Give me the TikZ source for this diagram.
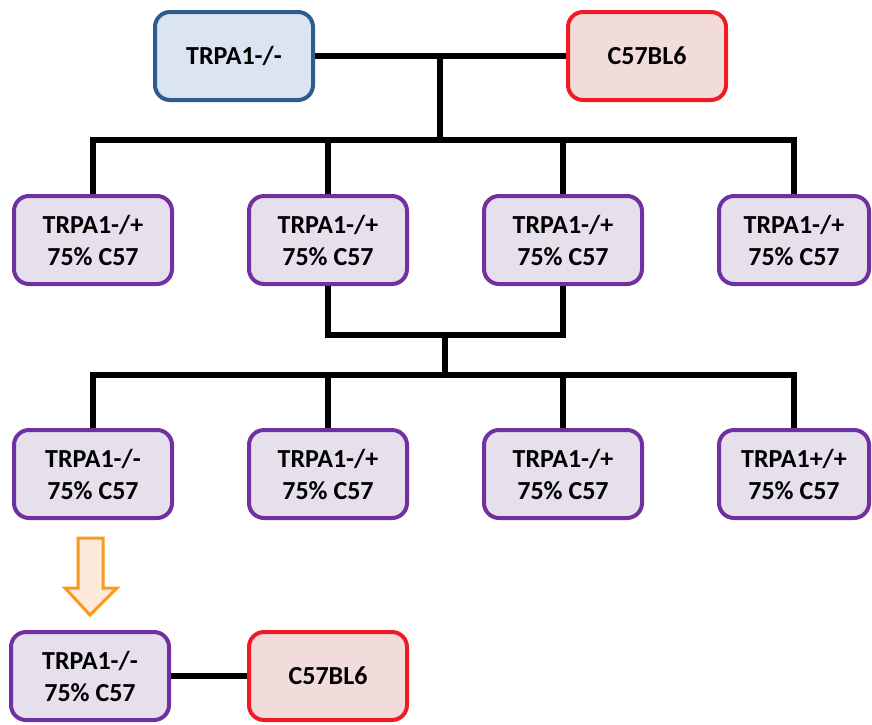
\documentclass[tikz,border=0pt]{standalone}
\usepackage{fontspec}
\setmainfont{Carlito}
\definecolor{koFill}{HTML}{DBE5F1}
\definecolor{koLine}{HTML}{2C5D8F}
\definecolor{wtFill}{HTML}{F2DCDB}
\definecolor{wtLine}{HTML}{EE1C25}
\definecolor{mixFill}{HTML}{E5E0EC}
\definecolor{mixLine}{HTML}{7030A0}
\definecolor{arrLine}{HTML}{F79A1E}
\definecolor{arrFill}{HTML}{FDEADA}
\tikzset{
  box/.style={draw, line width=4pt, rounded corners=15pt, minimum width=158pt,
    minimum height=88pt, inner sep=0pt, align=center,
    font=\fontsize{26}{32}\selectfont\bfseries},
  kobox/.style={box, fill=koFill, draw=koLine},
  wtbox/.style={box, fill=wtFill, draw=wtLine},
  mixbox/.style={box, fill=mixFill, draw=mixLine},
  link/.style={line width=6pt, black},
  nextgen/.style={draw=arrLine, fill=arrFill, line width=3pt, line join=miter}
}
\begin{document}
\begin{tikzpicture}[x=1pt, y=-1pt]
\useasboundingbox (0,0) rectangle (872,724);

% parental cross
\node[kobox] (ko) at (234,56) {TRPA1-/-};
\node[wtbox] (wt) at (647,56) {C57BL6};

% first generation
\node[mixbox] (fa) at (93,240)  {TRPA1-/+\\75\% C57};
\node[mixbox] (fb) at (328,240) {TRPA1-/+\\75\% C57};
\node[mixbox] (fc) at (563,240) {TRPA1-/+\\75\% C57};
\node[mixbox, minimum width=150pt] (fd) at (794,240) {TRPA1-/+\\75\% C57};

% second generation
\node[mixbox] (sa) at (93,474)  {TRPA1-/-\\75\% C57};
\node[mixbox] (sb) at (328,474) {TRPA1-/+\\75\% C57};
\node[mixbox] (sc) at (563,474) {TRPA1-/+\\75\% C57};
\node[mixbox, minimum width=150pt] (sd) at (794,474) {TRPA1+/+\\75\% C57};

% backcross
\node[mixbox] (ba) at (90,676)  {TRPA1-/-\\75\% C57};
\node[wtbox] (bw) at (328,676) {C57BL6};

% junction points
\coordinate (j1) at (440,55);
\coordinate (b1) at (440,140);
\coordinate (j2) at (445,335);
\coordinate (b2) at (445,375);

% cross lines
\draw[link] (ko) -- (wt);
\draw[link] (j1) -- (b1);
\draw[link] (fa.north) |- (b1) -| (fd.north);
\draw[link] (fb.north) -- (fb.north |- b1);
\draw[link] (fc.north) -- (fc.north |- b1);

\draw[link] (fb.south) |- (j2) -| (fc.south);
\draw[link] (j2) -- (b2);
\draw[link] (sa.north) |- (b2) -| (sd.north);
\draw[link] (sb.north) -- (sb.north |- b2);
\draw[link] (sc.north) -- (sc.north |- b2);

\draw[link] (ba) -- (bw);

% selection arrow
\draw[nextgen] (78,538) -- (103,538) -- (103,588) -- (117,588) -- (90,615)
  -- (65,588) -- (78,588) -- cycle;
\end{tikzpicture}
\end{document}
